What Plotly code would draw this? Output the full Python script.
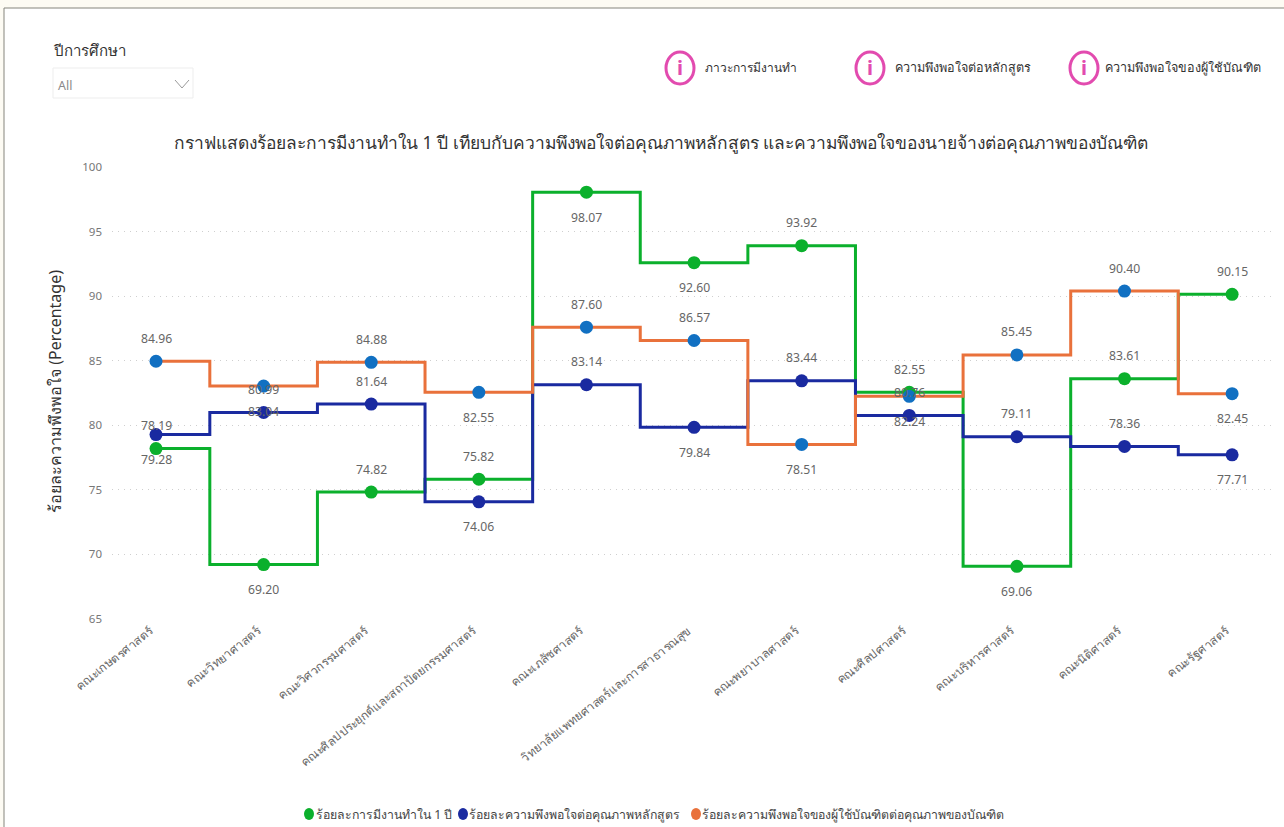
import plotly.graph_objects as go

categories = ["คณะเกษตรศาสตร์", "คณะวิทยาศาสตร์", "คณะวิศวกรรมศาสตร์",
              "คณะศิลปประยุกต์และสถาปัตยกรรมศาสตร์", "คณะเภสัชศาสตร์",
              "วิทยาลัยแพทยศาสตร์และการสาธารณสุข", "คณะพยาบาลศาสตร์", "คณะศิลปศาสตร์",
              "คณะบริหารศาสตร์", "คณะนิติศาสตร์", "คณะรัฐศาสตร์"]
employment = [78.19, 69.20, 74.82, 75.82, 98.07, 92.60, 93.92, 82.55, 69.06, 83.61, 90.15]
curriculum = [79.28, 80.99, 81.64, 74.06, 83.14, 79.84, 83.44, 80.76, 79.11, 78.36, 77.71]
employer = [84.96, 83.04, 84.88, 82.55, 87.60, 86.57, 78.51, 82.24, 85.45, 90.40, 82.45]

employment_side = [1, -1, 1, 1, -1, -1, 1, 1, -1, 1, 1]
curriculum_side = [-1, 1, 1, -1, 1, -1, 1, 1, 1, 1, -1]
employer_side = [1, -1, 1, -1, 1, 1, -1, -1, 1, 1, -1]

names = ["ร้อยละการมีงานทำใน 1 ปี", "ร้อยละความพึงพอใจต่อคุณภาพหลักสูตร",
         "ร้อยละความพึงพอใจของผู้ใช้บัณฑิตต่อคุณภาพของบัณฑิต"]
title = "กราฟแสดงร้อยละการมีงานทำใน 1 ปี เทียบกับความพึงพอใจต่อคุณภาพหลักสูตร และความพึงพอใจของนายจ้างต่อคุณภาพของบัณฑิต"
y_title = "ร้อยละความพึงพอใจ (Percentage)"
y_ticks = [65, 70, 75, 80, 85, 90, 95, 100]
info_labels = ["ภาวะการมีงานทำ", "ความพึงพอใจต่อหลักสูตร", "ความพึงพอใจของผู้ใช้บัณฑิต"]

FONT = "Noto Sans, Liberation Sans, DejaVu Sans, sans-serif"
GREEN, NAVY, ORANGE, BLUE, PINK = "#0BB02C", "#1A2AA0", "#E9713B", "#1170C2", "#E24BAF"
W, H, L, R, T, B = 1284, 827, 112, 11, 167, 208


def px(x):
    return (x - L) / (W - L - R)


def py(y):
    return (H - B - y) / (H - T - B)


def label(x, y, text, size, color, anchor="left", **kw):
    return dict(xref="paper", yref="paper", x=px(x), y=py(y), text=text, showarrow=False,
                xanchor=anchor, yanchor="middle", font=dict(size=size, color=color, family=FONT), **kw)


def circle(cx, cy, rx, ry, **kw):
    return dict(type="circle", xref="paper", yref="paper", x0=px(cx - rx), x1=px(cx + rx),
                y0=py(cy + ry), y1=py(cy - ry), **kw)


fig = go.Figure()
series = [(employment, GREEN, GREEN, employment_side, names[0]),
          (curriculum, NAVY, NAVY, curriculum_side, names[1]),
          (employer, ORANGE, BLUE, employer_side, names[2])]
annotations = []
for values, line_c, marker_c, sides, name in series:
    fig.add_trace(go.Scatter(x=list(range(len(categories))), y=values, mode="lines+markers", name=name,
                             line=dict(color=line_c, width=3, shape="hvh"),
                             marker=dict(color=marker_c, size=13), showlegend=False, cliponaxis=False))
    for i, (v, s) in enumerate(zip(values, sides)):
        annotations.append(dict(xref="x", yref="y", x=i, y=v, text=f"{v:.2f}", showarrow=False,
                                yshift=23 * s if s > 0 else -25, font=dict(size=12.2, color="#666666", family=FONT)))

shapes = [
    dict(type="rect", xref="paper", yref="paper", x0=px(4), x1=px(1290), y0=py(835), y1=py(8),
         fillcolor="white", line=dict(color="#85857C", width=1), layer="below"),
    dict(type="rect", xref="paper", yref="paper", x0=px(53), x1=px(193), y0=py(98), y1=py(68),
         fillcolor="white", line=dict(color="#EDEDED", width=1), layer="below"),
    dict(type="path", xref="paper", yref="paper",
         path=f"M {px(175)} {py(80)} L {px(182)} {py(88)} L {px(189)} {py(80)}",
         line=dict(color="#9A9A9A", width=1)),
]
annotations += [label(51, 50, "ปีการศึกษา", 15, "#333333"), label(56, 85, "All", 12.5, "#8A8A8A"),
                label(661, 142, title, 17.4, "#333333", "center"),
                label(55, 392, y_title, 16, "#333333", "center", textangle=-90)]

for cx, tx, text, size in zip([680, 870, 1084], [703, 893, 1103], info_labels, [12, 12.6, 12.6]):
    shapes.append(circle(cx, 68, 14, 16, line=dict(color=PINK, width=3), fillcolor="white"))
    annotations.append(label(cx, 68, "<b>i</b>", 20, PINK, "center"))
    annotations.append(label(tx, 68, text, size, "#333333"))

for cx, tx, c, name in zip([309, 463, 696], [314, 467, 700], [GREEN, NAVY, ORANGE], names):
    shapes.append(circle(cx, 814, 5, 6, fillcolor=c, line=dict(width=0)))
    annotations.append(label(tx, 814, name, 12.3, "#444444"))

fig.update_layout(
    width=W, height=H, margin=dict(l=L, r=R, t=T, b=B, pad=0),
    paper_bgcolor="#FDFBF3", plot_bgcolor="rgba(0,0,0,0)",
    shapes=shapes, annotations=annotations, showlegend=False, font=dict(family=FONT),
    xaxis=dict(tickmode="array", tickvals=list(range(len(categories))), ticktext=categories, tickangle=-38,
               range=[-0.409, 10.38], showgrid=False, zeroline=False, showline=False, ticks="",
               ticklabelshift=-6, ticklabelstandoff=2,
               tickfont=dict(size=12, color="#666666", family=FONT)),
    yaxis=dict(tickmode="array", tickvals=y_ticks, range=[64.98, 100.02], showgrid=True, griddash="1px,5px",
               gridcolor="#CFCFCF", gridwidth=1, zeroline=False, showline=False, ticks="",
               ticklabelstandoff=9,
               tickfont=dict(size=11.5, color="#777777", family=FONT)),
)

fig.write_html("out.html", config={"displayModeBar": False},
               post_script="document.body.style.margin='0';document.body.style.overflow='hidden';")
